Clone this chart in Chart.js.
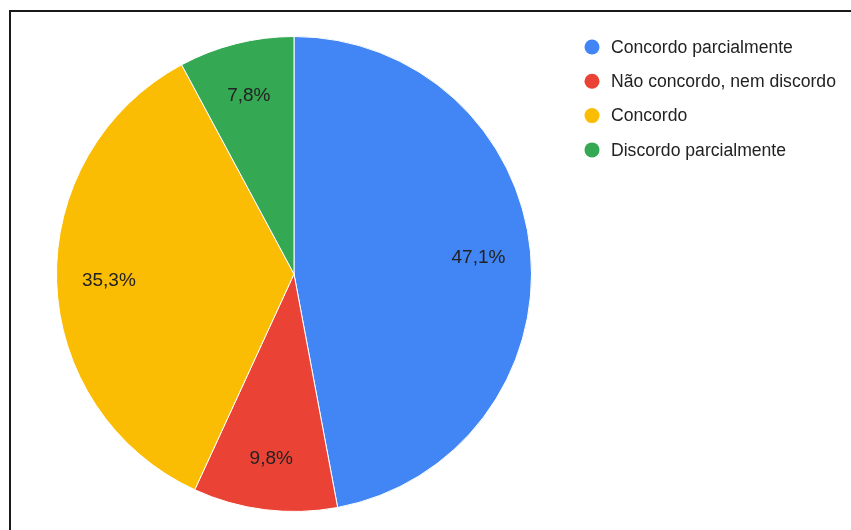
<!DOCTYPE html>
<html>
<head>
<meta charset="utf-8">
<script src="https://cdn.jsdelivr.net/npm/chart.js@4/dist/chart.umd.min.js"></script>
<style>
  html, body { margin: 0; padding: 0; background: #fff; }
  #wrap { position: relative; width: 851px; height: 530px; overflow: hidden; }
  #frame { position: absolute; left: 9px; top: 10px; right: -10px; bottom: -10px;
           border-top: 2px solid #1a1a1a; border-left: 2px solid #1a1a1a; }
  canvas { position: absolute; left: 0; top: 0; }
</style>
</head>
<body>
<div id="wrap">
  <div id="frame"></div>
  <canvas id="pie-chart" width="851" height="530"></canvas>
</div>
<script>
// answers per option
var labels = ['Concordo parcialmente', 'Não concordo, nem discordo', 'Concordo', 'Discordo parcialmente'],
    votes = [24, 5, 18, 4],
    sliceColors = ['#4285F4', '#EA4335', '#FBBC04', '#34A853'];

var fontFamily = '"Liberation Sans", Arial, sans-serif';

// percentage written inside each slice, comma as decimal mark
var sliceText = {
  id: 'sliceText',
  afterDatasetsDraw: function(chart) {
    var ctx = chart.ctx,
        meta = chart.getDatasetMeta(0),
        total = votes.reduce(function(a, b) { return a + b; }, 0);

    ctx.save();
    ctx.font = '19px ' + fontFamily;
    ctx.fillStyle = '#222';
    ctx.textAlign = 'center';
    ctx.textBaseline = 'middle';
    meta.data.forEach(function(arc, i) {
      var mid = (arc.startAngle + arc.endAngle) / 2,
          r = arc.outerRadius * 0.78,
          pct = (votes[i] / total * 100).toFixed(1).replace('.', ',') + '%';
      ctx.fillText(pct, arc.x + Math.cos(mid) * r, arc.y + Math.sin(mid) * r + 1);
    });
    ctx.restore();
  }
};

// legend on the right, dots plus names
var sideLegend = {
  id: 'sideLegend',
  afterDraw: function(chart) {
    var ctx = chart.ctx;
    ctx.save();
    ctx.font = '17.6px ' + fontFamily;
    ctx.textBaseline = 'middle';
    labels.forEach(function(name, i) {
      var y = 47 + i * 34.3;
      ctx.beginPath();
      ctx.fillStyle = sliceColors[i];
      ctx.arc(592, y, 7.5, 0, Math.PI * 2);
      ctx.fill();
      ctx.fillStyle = '#222';
      ctx.fillText(name, 611, y + 1);
    });
    ctx.restore();
  }
};

var ctx = document.getElementById('pie-chart').getContext('2d'),
    pieChart = new Chart(ctx, {
      type: 'pie',
      data: {
        labels: labels,
        datasets: [{
          data: votes,
          backgroundColor: sliceColors,
          borderColor: '#ffffff',
          borderWidth: 1
        }]
      },
      options: {
        responsive: false,
        animation: false,
        layout: { padding: { left: 56, right: 319, top: 36, bottom: 18 } },
        plugins: {
          legend: { display: false },
          tooltip: { enabled: false }
        }
      },
      plugins: [sliceText, sideLegend]
    });
</script>
</body>
</html>
